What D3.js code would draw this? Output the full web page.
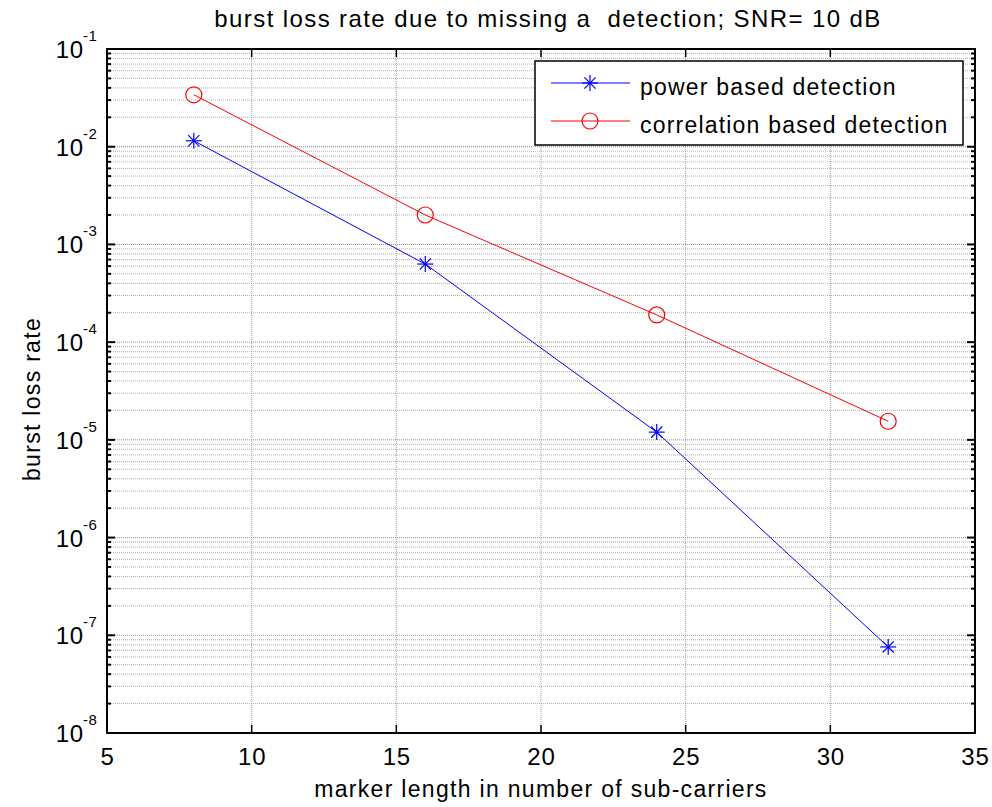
<!DOCTYPE html>
<html><head><meta charset="utf-8">
<script src="https://cdn.jsdelivr.net/npm/d3@7"></script>
<style>
body{margin:0;background:#fff;}
text{font-family:"Liberation Sans",Arial,sans-serif;fill:#000;}
</style></head>
<body><svg id="c" width="992" height="807"></svg>
<script>
const xValues = [8, 16, 24, 32];
const powerValues = [0.0115, 6.3e-4, 1.2e-5, 7.6e-8];
const corrValues = [0.034, 2.0e-3, 1.9e-4, 1.55e-5];
const seriesNames = ["power based detection", "correlation based detection"];
const xTicks = [5, 10, 15, 20, 25, 30, 35];
const yExponents = [-8, -7, -6, -5, -4, -3, -2, -1];
const titleText = "burst loss rate due to missing a  detection; SNR= 10 dB";
const xLabelText = "marker length in number of sub-carriers";
const yLabelText = "burst loss rate";

const svg = d3.select("#c");
const L = 107, R = 975, T = 49, B = 733;
const x = d3.scaleLinear().domain([5, 35]).range([L, R]);
const y = d3.scaleLog().domain([1e-8, 1e-1]).range([B, T]);

// grid
const g = svg.append("g");
const minors = [];
for (let e = -8; e < -1; e++) for (let m = 2; m <= 9; m++) minors.push(m * Math.pow(10, e));
const majors = yExponents.map(e => Math.pow(10, e));
g.selectAll(".ymin").data(minors).enter().append("line")
  .attr("x1", L).attr("x2", R).attr("y1", d => y(d)).attr("y2", d => y(d))
  .attr("stroke", "#b0b0b0").attr("stroke-width", 1).attr("stroke-dasharray", "1,1");
g.selectAll(".ymaj").data(majors).enter().append("line")
  .attr("x1", L).attr("x2", R).attr("y1", d => y(d)).attr("y2", d => y(d))
  .attr("stroke", "#909090").attr("stroke-width", 1).attr("stroke-dasharray", "1,1");
g.selectAll(".xg").data(xTicks.slice(1, -1)).enter().append("line")
  .attr("y1", T).attr("y2", B).attr("x1", d => x(d)).attr("x2", d => x(d))
  .attr("stroke", "#a0a0a0").attr("stroke-width", 1).attr("stroke-dasharray", "1,1");

// axes ticks (inward)
const ax = svg.append("g");
const tickLen = 8, minLen = 4;
majors.forEach(v => {
  ax.append("line").attr("x1", L).attr("x2", L + tickLen).attr("y1", y(v)).attr("y2", y(v)).attr("stroke", "#000").attr("stroke-width", 2);
  ax.append("line").attr("x1", R).attr("x2", R - tickLen).attr("y1", y(v)).attr("y2", y(v)).attr("stroke", "#000").attr("stroke-width", 2);
});
minors.forEach(v => {
  ax.append("line").attr("x1", L).attr("x2", L + minLen).attr("y1", y(v)).attr("y2", y(v)).attr("stroke", "#000").attr("stroke-width", 2);
  ax.append("line").attr("x1", R).attr("x2", R - minLen).attr("y1", y(v)).attr("y2", y(v)).attr("stroke", "#000").attr("stroke-width", 2);
});
xTicks.forEach(v => {
  ax.append("line").attr("y1", B).attr("y2", B - tickLen).attr("x1", x(v)).attr("x2", x(v)).attr("stroke", "#000").attr("stroke-width", 1.5);
  ax.append("line").attr("y1", T).attr("y2", T + tickLen).attr("x1", x(v)).attr("x2", x(v)).attr("stroke", "#000").attr("stroke-width", 1.5);
});
ax.append("rect").attr("x", L).attr("y", T).attr("width", R - L).attr("height", B - T)
  .attr("fill", "none").attr("stroke", "#000").attr("stroke-width", 2);

// tick labels
xTicks.forEach(v => {
  ax.append("text").attr("x", x(v) + 0.5).attr("y", 765).attr("text-anchor", "middle")
    .attr("font-size", 24).attr("letter-spacing", 0.8).text(v);
});
yExponents.forEach(e => {
  const ty = y(Math.pow(10, e));
  ax.append("text").attr("x", 84).attr("y", ty + 9).attr("text-anchor", "end").attr("font-size", 24).attr("letter-spacing", 0.8).text("10");
  ax.append("text").attr("x", 83).attr("y", ty - 8).attr("text-anchor", "start").attr("font-size", 15).attr("letter-spacing", 0.5).text(e);
});

// labels
svg.append("text").attr("x", 548).attr("y", 27).attr("text-anchor", "middle").attr("font-size", 24)
  .attr("letter-spacing", 1.4).style("white-space", "pre").text(titleText);
svg.append("text").attr("x", 541).attr("y", 797).attr("text-anchor", "middle").attr("font-size", 23)
  .attr("letter-spacing", 1.3).text(xLabelText);
svg.append("text").attr("transform", "translate(40,399) rotate(-90)").attr("text-anchor", "middle")
  .attr("font-size", 23).attr("letter-spacing", 1.3).text(yLabelText);

// series
const line = d3.line().x(d => x(d[0])).y(d => y(d[1]));
const pData = xValues.map((v, i) => [v, powerValues[i]]);
const cData = xValues.map((v, i) => [v, corrValues[i]]);
const clr = ["#0000ff", "#ff0000"];

function star(sel, cx, cy, s, color) {
  const gg = sel.append("g").attr("transform", `translate(${cx},${cy})`).attr("stroke", color).attr("stroke-width", 1.2);
  gg.append("line").attr("x1", -s).attr("x2", s).attr("y1", 0).attr("y2", 0);
  gg.append("line").attr("x1", 0).attr("x2", 0).attr("y1", -s).attr("y2", s);
  const d = s * 0.7;
  gg.append("line").attr("x1", -d).attr("x2", d).attr("y1", -d).attr("y2", d);
  gg.append("line").attr("x1", -d).attr("x2", d).attr("y1", d).attr("y2", -d);
}

svg.append("path").datum(pData).attr("d", line).attr("fill", "none").attr("stroke", clr[0]).attr("stroke-width", 1);
svg.append("path").datum(cData).attr("d", line).attr("fill", "none").attr("stroke", clr[1]).attr("stroke-width", 1);
pData.forEach(d => star(svg, x(d[0]), y(d[1]), 8, clr[0]));
svg.selectAll(".cm").data(cData).enter().append("circle")
  .attr("cx", d => x(d[0])).attr("cy", d => y(d[1])).attr("r", 8)
  .attr("fill", "none").attr("stroke", clr[1]).attr("stroke-width", 1.2);

// legend
const lg = svg.append("g");
lg.append("rect").attr("x", 535).attr("y", 61).attr("width", 428).attr("height", 84)
  .attr("fill", "#fff").attr("stroke", "#000").attr("stroke-width", 1.5);
const rows = [83, 121];
seriesNames.forEach((n, i) => {
  lg.append("line").attr("x1", 551).attr("x2", 630).attr("y1", rows[i]).attr("y2", rows[i]).attr("stroke", clr[i]).attr("stroke-width", 1);
  if (i === 0) star(lg, 590, rows[i], 8, clr[0]);
  else lg.append("circle").attr("cx", 590).attr("cy", rows[i]).attr("r", 8).attr("fill", "none").attr("stroke", clr[1]).attr("stroke-width", 1.2);
  lg.append("text").attr("x", 640).attr("y", rows[i] + 12).attr("font-size", 23).attr("letter-spacing", 1.2).text(n);
});
</script></body></html>
